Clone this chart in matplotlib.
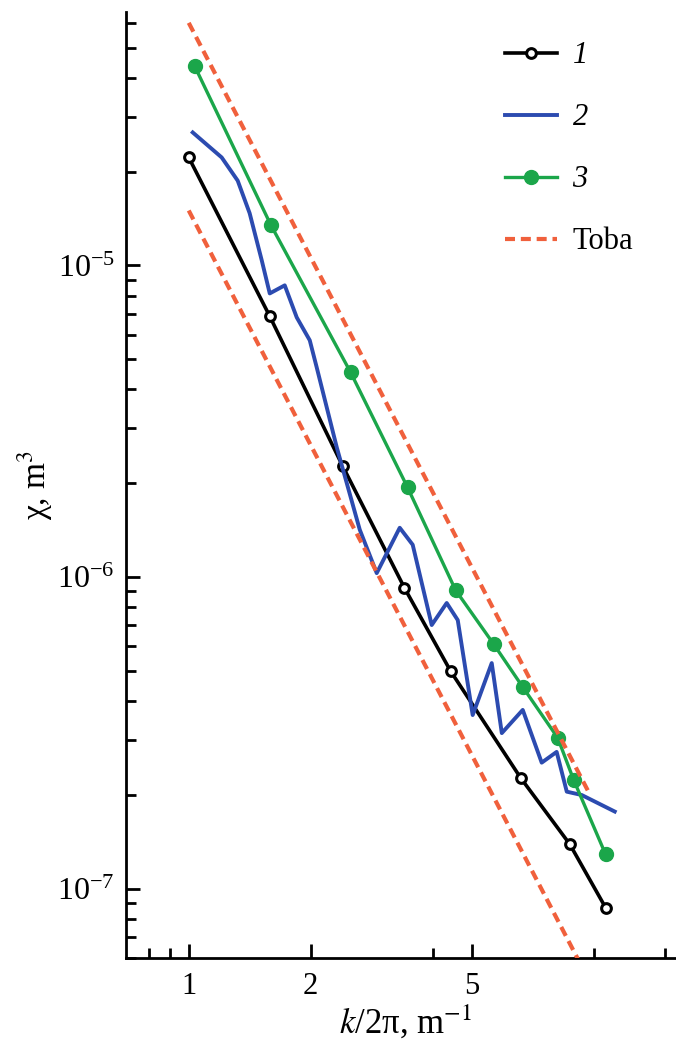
import matplotlib
matplotlib.use('Agg')
import matplotlib.pyplot as plt
from matplotlib.ticker import FixedLocator, FixedFormatter, NullFormatter, LogLocator

# curve 1 (open circles)
k1 = [1.0, 1.585, 2.40, 3.41, 4.43, 6.60, 8.73, 10.7]
chi1 = [2.22e-5, 6.87e-6, 2.27e-6, 9.23e-7, 5.0e-7, 2.27e-7, 1.39e-7, 8.7e-8]

# curve 2 (zigzag, no markers)
k2 = [1.023, 1.206, 1.321, 1.414, 1.514, 1.585, 1.726, 1.848, 1.99, 2.07,
      2.32, 2.644, 2.912, 3.319, 3.573, 3.981, 4.335, 4.616, 5.025, 5.60,
      5.93, 6.68, 7.44, 8.10, 8.58, 9.34, 11.27]
chi2 = [2.67e-5, 2.22e-5, 1.87e-5, 1.47e-5, 1.04e-5, 8.13e-6, 8.63e-6, 6.81e-6, 5.75e-6, 4.71e-6,
        2.61e-6, 1.42e-6, 1.03e-6, 1.44e-6, 1.27e-6, 7.02e-7, 8.26e-7, 7.28e-7, 3.61e-7, 5.30e-7,
        3.16e-7, 3.75e-7, 2.54e-7, 2.75e-7, 2.05e-7, 2.00e-7, 1.77e-7]

# curve 3 (filled circles)
k3 = [1.035, 1.594, 2.51, 3.47, 4.56, 5.66, 6.68, 8.15, 8.93, 10.7]
chi3 = [4.35e-5, 1.35e-5, 4.54e-6, 1.94e-6, 9.08e-7, 6.1e-7, 4.44e-7, 3.05e-7, 2.23e-7, 1.29e-7]

# Toba bounds
toba_k = [1.0, 9.8]
toba_hi = [6.0e-5, 2.0e-7]
toba_lo = [1.5e-5, 5.0e-8]

xticks_major = [1, 2, 5]
xticks_minor = [0.8, 0.9, 4, 10, 15]

plt.rcParams['font.family'] = 'Liberation Serif'
plt.rcParams['mathtext.fontset'] = 'stix'

fig = plt.figure(figsize=(6.76, 10.45), dpi=100)
ax = fig.add_axes([126 / 676, 87 / 1045, 560 / 676, 946 / 1045])

ax.plot(k1, chi1, '-o', color='black', lw=2.6, ms=7, mfc='white', mew=2.2, label='1', zorder=2)
ax.plot(k2, chi2, '-', color='#2c4bb0', lw=2.8, label='2', zorder=3)
ax.plot(k3, chi3, '-o', color='#1ba64a', lw=2.4, ms=10, label='3', zorder=4)
ax.plot(toba_k, toba_hi, '--', color='#f0603c', lw=3, dashes=(2.4, 1.4), label='Toba', zorder=5)
ax.plot(toba_k, toba_lo, '--', color='#f0603c', lw=3, dashes=(2.4, 1.4), zorder=5)

ax.set_xscale('log')
ax.set_yscale('log')
ax.set_xlim(0.7, 16.9)
ax.set_ylim(6e-8, 6.5e-5)

ax.xaxis.set_major_locator(FixedLocator(xticks_major))
ax.xaxis.set_major_formatter(FixedFormatter([str(t) for t in xticks_major]))
ax.xaxis.set_minor_locator(FixedLocator(xticks_minor))
ax.xaxis.set_minor_formatter(NullFormatter())
ax.yaxis.set_major_locator(LogLocator(base=10))
ax.yaxis.set_minor_locator(LogLocator(base=10, subs=range(2, 10)))
ax.yaxis.set_minor_formatter(NullFormatter())

ax.tick_params(which='both', direction='in', width=2)
ax.tick_params(which='major', length=10)
ax.tick_params(which='minor', length=7)
ax.tick_params(axis='x', labelsize=22, pad=10)
ax.tick_params(axis='y', labelsize=23, pad=8)

for s in ['top', 'right']:
    ax.spines[s].set_visible(False)
for s in ['left', 'bottom']:
    ax.spines[s].set_linewidth(2)

ax.set_xlabel(r'$k$/2π, m$^{-1}$', fontsize=25, labelpad=2)
ax.set_ylabel(r'χ, m$^3$', fontsize=24, labelpad=2)

leg = ax.legend(loc='upper left', bbox_to_anchor=(490 / 676, 1 - 26 / 1045),
                bbox_transform=fig.transFigure, frameon=False, fontsize=22,
                handlelength=1.7, handletextpad=0.5, labelspacing=1.08, borderpad=0)
for t in leg.get_texts()[:3]:
    t.set_style('italic')

fig.savefig('out.png', dpi=100)
